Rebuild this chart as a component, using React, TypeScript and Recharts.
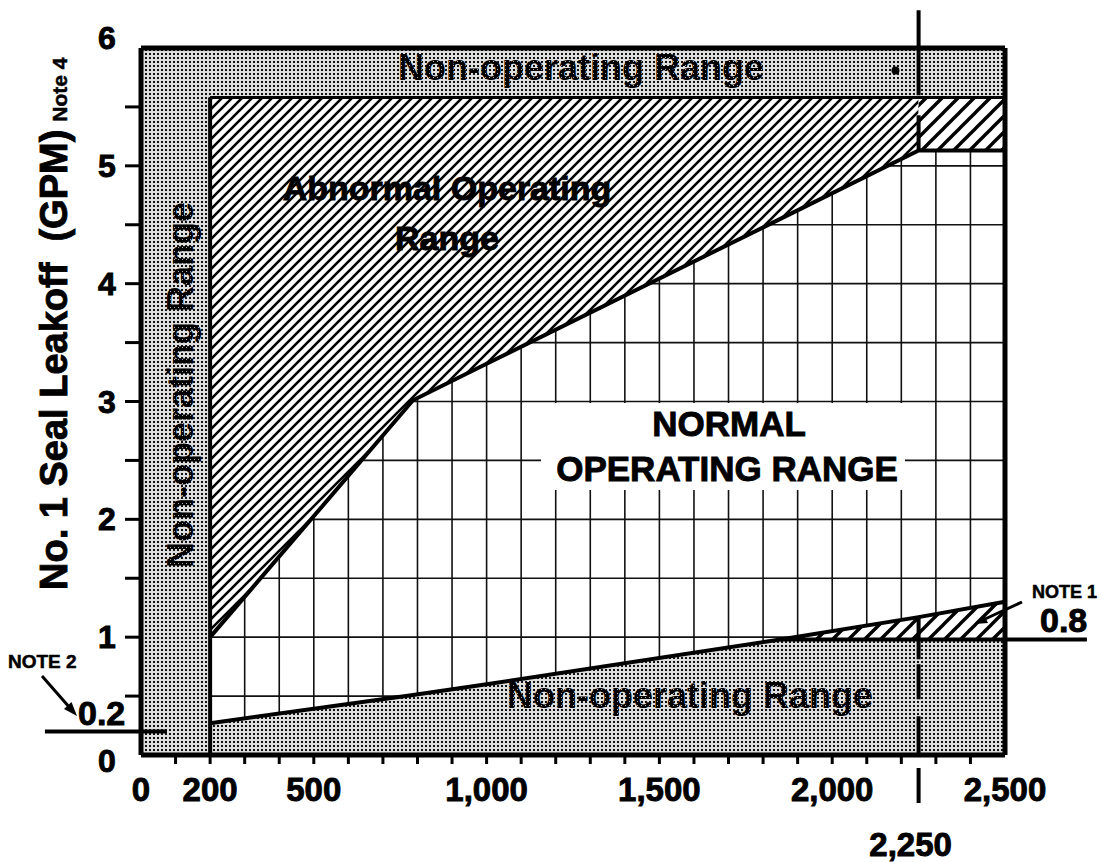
import {
  ComposedChart,
  Area,
  Line,
  XAxis,
  YAxis,
  CartesianGrid,
  ReferenceArea,
  ReferenceLine,
  ReferenceDot,
} from "recharts";

const W = 1102;
const H = 862;
const FONT = "'Liberation Sans', Arial, Helvetica, sans-serif";

// x = RCS pressure, y = No. 1 seal leakoff (gpm)
const BREAK_POINTS = [200, 787, 1000, 1850, 2250, 2500];
const NORMAL_UPPER = [1.0, 3.01, 3.32, 4.55, 5.13, 5.13];
const NORMAL_LOWER = [0.27, 0.51, 0.6, 0.98, 1.17, 1.3];

const X_MAX = 2500;
const Y_MAX = 6;
const MIN_PRESSURE = 200;
const MARK_PRESSURE = 2250;
const INNER_TOP = 5.58;
const PLATEAU = 5.13;
const NOTE1_LEVEL = 0.98; // the line labelled 0.8
const NOTE2_LEVEL = 0.2;
const TOP_DOT = { x: 2183, y: 5.81 };

const X_TICKS = [
  0, 100, 200, 300, 400, 500, 600, 700, 800, 900, 1000, 1100, 1200, 1300, 1400,
  1500, 1600, 1700, 1800, 1900, 2000, 2100, 2200, 2250, 2300, 2400, 2500,
];
const X_LABELS = [0, 200, 500, 1000, 1500, 2000, 2500];
const Y_TICKS = [0, 0.5, 1, 1.5, 2, 2.5, 3, 3.5, 4, 4.5, 5, 5.5, 6];

const GRID_X = X_TICKS.filter((v) => v > MIN_PRESSURE && v < X_MAX && v !== MARK_PRESSURE);
const GRID_Y = Y_TICKS.filter((v) => v > 0 && v < Y_MAX);

const rows = BREAK_POINTS.map((x, i) => ({
  x,
  upper: NORMAL_UPPER[i],
  lower: NORMAL_LOWER[i],
  hatch: x <= MARK_PRESSURE ? [NORMAL_UPPER[i], INNER_TOP] : null,
  gray: [0, Math.min(NORMAL_LOWER[i], NOTE1_LEVEL)],
  wedge: NORMAL_LOWER[i] >= NOTE1_LEVEL ? [NOTE1_LEVEL, NORMAL_LOWER[i]] : null,
}));

// heavy type, the scan's letters are blacker than plain bold
const heavy = { fontFamily: FONT, fontWeight: "bold" as const, stroke: "#000", strokeWidth: 0.9 };

function XTick(props: any) {
  const { x, y, payload } = props;
  const v = payload.value;
  return (
    <g>
      {v > 0 && v < X_MAX && v !== MARK_PRESSURE && (
        <line x1={x} x2={x} y1={y} y2={y + 9} stroke="#000" strokeWidth={3} />
      )}
      {X_LABELS.includes(v) && (
        <text x={x} y={y + 46} textAnchor="middle" {...heavy} fontSize={33} fill="#000">
          {v.toLocaleString("en-US")}
        </text>
      )}
      {v === MARK_PRESSURE && (
        <g>
          <line x1={x} x2={x} y1={y + 13} y2={y + 48} stroke="#000" strokeWidth={4} />
          <text x={x - 8} y={y + 101} textAnchor="middle" {...heavy} fontSize={33} fill="#000">
            {v.toLocaleString("en-US")}
          </text>
        </g>
      )}
    </g>
  );
}

function YTick(props: any) {
  const { x, y, payload } = props;
  const v = payload.value;
  const nudge = v === Y_MAX ? -10 : v === 0 ? 6 : 0;
  return (
    <g>
      {v > 0 && v < Y_MAX && <line x1={x - 16} x2={x} y1={y} y2={y} stroke="#000" strokeWidth={3} />}
      {Number.isInteger(v) && (
        <text x={x - 34} y={y + 11 + nudge} textAnchor="middle" {...heavy} fontSize={32} fill="#000">
          {v}
        </text>
      )}
    </g>
  );
}

export default function App() {
  return (
    <div style={{ position: "absolute", left: 0, top: 0, width: W, height: H, background: "#fff" }}>
      <ComposedChart width={W} height={H} data={rows} margin={{ top: 48, right: 97, left: 0, bottom: 0 }}>
        <defs>
          <pattern id="stipple" patternUnits="userSpaceOnUse" width={4} height={4}>
            <rect width={4} height={4} fill="#dedede" />
            <rect x={1} y={1} width={2} height={2} fill="#111" />
          </pattern>
          <pattern id="hatch" patternUnits="userSpaceOnUse" width={10} height={10}>
            <rect width={10} height={10} fill="#fff" />
            <path d="M0,10 L10,0 M-2,2 L2,-2 M8,12 L12,8" stroke="#000" strokeWidth={2.6} />
          </pattern>
          <pattern id="hatchWide" patternUnits="userSpaceOnUse" width={16} height={16}>
            <rect width={16} height={16} fill="#fff" />
            <path d="M0,16 L16,0 M-2,2 L2,-2 M14,18 L18,14" stroke="#000" strokeWidth={3.4} />
          </pattern>
        </defs>
        <CartesianGrid
          verticalValues={GRID_X}
          horizontalValues={GRID_Y}
          stroke="#111"
          strokeWidth={1.6}
        />
        <XAxis
          type="number"
          dataKey="x"
          domain={[0, X_MAX]}
          ticks={X_TICKS}
          interval={0}
          tick={(p: any) => <XTick {...p} />}
          tickSize={0}
          tickMargin={0}
          axisLine={false}
          tickLine={false}
          height={107}
        />
        <YAxis
          type="number"
          domain={[0, Y_MAX]}
          ticks={Y_TICKS}
          interval={0}
          tick={(p: any) => <YTick {...p} />}
          tickSize={0}
          tickMargin={0}
          axisLine={false}
          tickLine={false}
          width={141}
        />

        {/* non-operating bands */}
        <ReferenceArea x1={0} x2={MIN_PRESSURE} y1={0} y2={Y_MAX} fill="url(#stipple)" fillOpacity={1} stroke="none" />
        <ReferenceArea x1={MIN_PRESSURE} x2={X_MAX} y1={INNER_TOP} y2={Y_MAX} fill="url(#stipple)" fillOpacity={1} stroke="none" />
        <Area dataKey="gray" type="linear" fill="url(#stipple)" fillOpacity={1} stroke="none" isAnimationActive={false} />

        {/* abnormal operating */}
        <Area dataKey="hatch" type="linear" fill="url(#hatch)" fillOpacity={1} stroke="none" isAnimationActive={false} />
        <Area dataKey="wedge" type="linear" fill="url(#hatchWide)" fillOpacity={1} stroke="none" isAnimationActive={false} />
        <ReferenceArea x1={MARK_PRESSURE} x2={X_MAX} y1={PLATEAU} y2={INNER_TOP} fill="url(#hatchWide)" fillOpacity={1} stroke="none" />

        {/* boundaries */}
        <Line dataKey="upper" type="linear" stroke="#000" strokeWidth={4} dot={false} isAnimationActive={false} />
        <Line dataKey="lower" type="linear" stroke="#000" strokeWidth={4} dot={false} isAnimationActive={false} />
        <ReferenceLine segment={[{ x: MIN_PRESSURE, y: 0 }, { x: MIN_PRESSURE, y: INNER_TOP }]} stroke="#000" strokeWidth={4} />
        <ReferenceLine segment={[{ x: MIN_PRESSURE, y: INNER_TOP }, { x: X_MAX, y: INNER_TOP }]} stroke="#000" strokeWidth={3} />
        <ReferenceLine
          segment={[{ x: 1850, y: NOTE1_LEVEL }, { x: 2737, y: NOTE1_LEVEL }]}
          stroke="#000"
          strokeWidth={4}
          ifOverflow="visible"
        />
        <ReferenceLine
          segment={[{ x: -278, y: NOTE2_LEVEL }, { x: 75, y: NOTE2_LEVEL }]}
          stroke="#000"
          strokeWidth={4}
          ifOverflow="visible"
        />
        <ReferenceLine
          segment={[{ x: MARK_PRESSURE, y: 6.32 }, { x: MARK_PRESSURE, y: PLATEAU }]}
          stroke="#000"
          strokeWidth={4}
          strokeDasharray="85 20 60"
          ifOverflow="visible"
        />
        <ReferenceLine
          segment={[{ x: MARK_PRESSURE, y: 1.17 }, { x: MARK_PRESSURE, y: 0 }]}
          stroke="#000"
          strokeWidth={4}
          strokeDasharray="42 5 35 17 60"
        />
        <ReferenceDot x={TOP_DOT.x} y={TOP_DOT.y} r={4} fill="#000" stroke="none" />

        {/* frame */}
        <ReferenceLine x={0} stroke="#000" strokeWidth={5} />
        <ReferenceLine x={X_MAX} stroke="#000" strokeWidth={5} />
        <ReferenceLine y={0} stroke="#000" strokeWidth={5} />
        <ReferenceLine y={Y_MAX} stroke="#000" strokeWidth={5} />
      </ComposedChart>

      <svg width={W} height={H} style={{ position: "absolute", left: 0, top: 0, pointerEvents: "none" }}>
        <defs>
          <pattern id="inkDots" patternUnits="userSpaceOnUse" width={4} height={4}>
            <rect width={4} height={4} fill="#000" />
            <rect x={1} y={1} width={1} height={1} fill="#aaa" />
          </pattern>
        </defs>

        <text transform="translate(67,590) rotate(-90)" {...heavy} fontSize={38} fill="#000">
          {"No. 1 Seal Leakoff\u00a0 (GPM)"}
          <tspan fontSize={21} dx={8} strokeWidth={0.5}>Note 4</tspan>
        </text>

        <text x={581} y={80} textAnchor="middle" {...heavy} stroke="none" fontSize={36} fill="url(#inkDots)">
          Non-operating Range
        </text>
        <text x={690} y={708} textAnchor="middle" {...heavy} stroke="none" fontSize={36} fill="url(#inkDots)">
          Non-operating Range
        </text>
        <text transform="translate(193,385) rotate(-90)" textAnchor="middle" {...heavy} stroke="none" fontSize={36} fill="url(#inkDots)">
          Non-operating Range
        </text>

        <text x={447} y={200} textAnchor="middle" {...heavy} fontSize={34} fill="#000">
          Abnormal Operating
        </text>
        <text x={447} y={250} textAnchor="middle" {...heavy} fontSize={34} fill="#000">
          Range
        </text>

        <rect x={541} y={403} width={364} height={87} fill="#fff" />
        <text x={729} y={436} textAnchor="middle" {...heavy} fontSize={35} fill="#000">
          NORMAL
        </text>
        <text x={727} y={481} textAnchor="middle" {...heavy} fontSize={35} fill="#000">
          OPERATING RANGE
        </text>

        <text x={8} y={668} {...heavy} strokeWidth={0.5} fontSize={19} fill="#000">NOTE 2</text>
        <line x1={42} y1={676} x2={70} y2={708} stroke="#000" strokeWidth={3} />
        <polygon points="77,716 64,709 71.5,702" fill="#000" />
        <text x={78} y={725} {...heavy} fontSize={34} fill="#000">0.2</text>

        <text x={1032} y={598} {...heavy} strokeWidth={0.5} fontSize={18} fill="#000">NOTE 1</text>
        <text x={1040} y={632} {...heavy} fontSize={34} fill="#000">0.8</text>
        <line x1={1022} y1={602} x2={985} y2={619} stroke="#000" strokeWidth={3} />
        <polygon points="975,624 988,623 984,615" fill="#000" />
      </svg>
    </div>
  );
}
